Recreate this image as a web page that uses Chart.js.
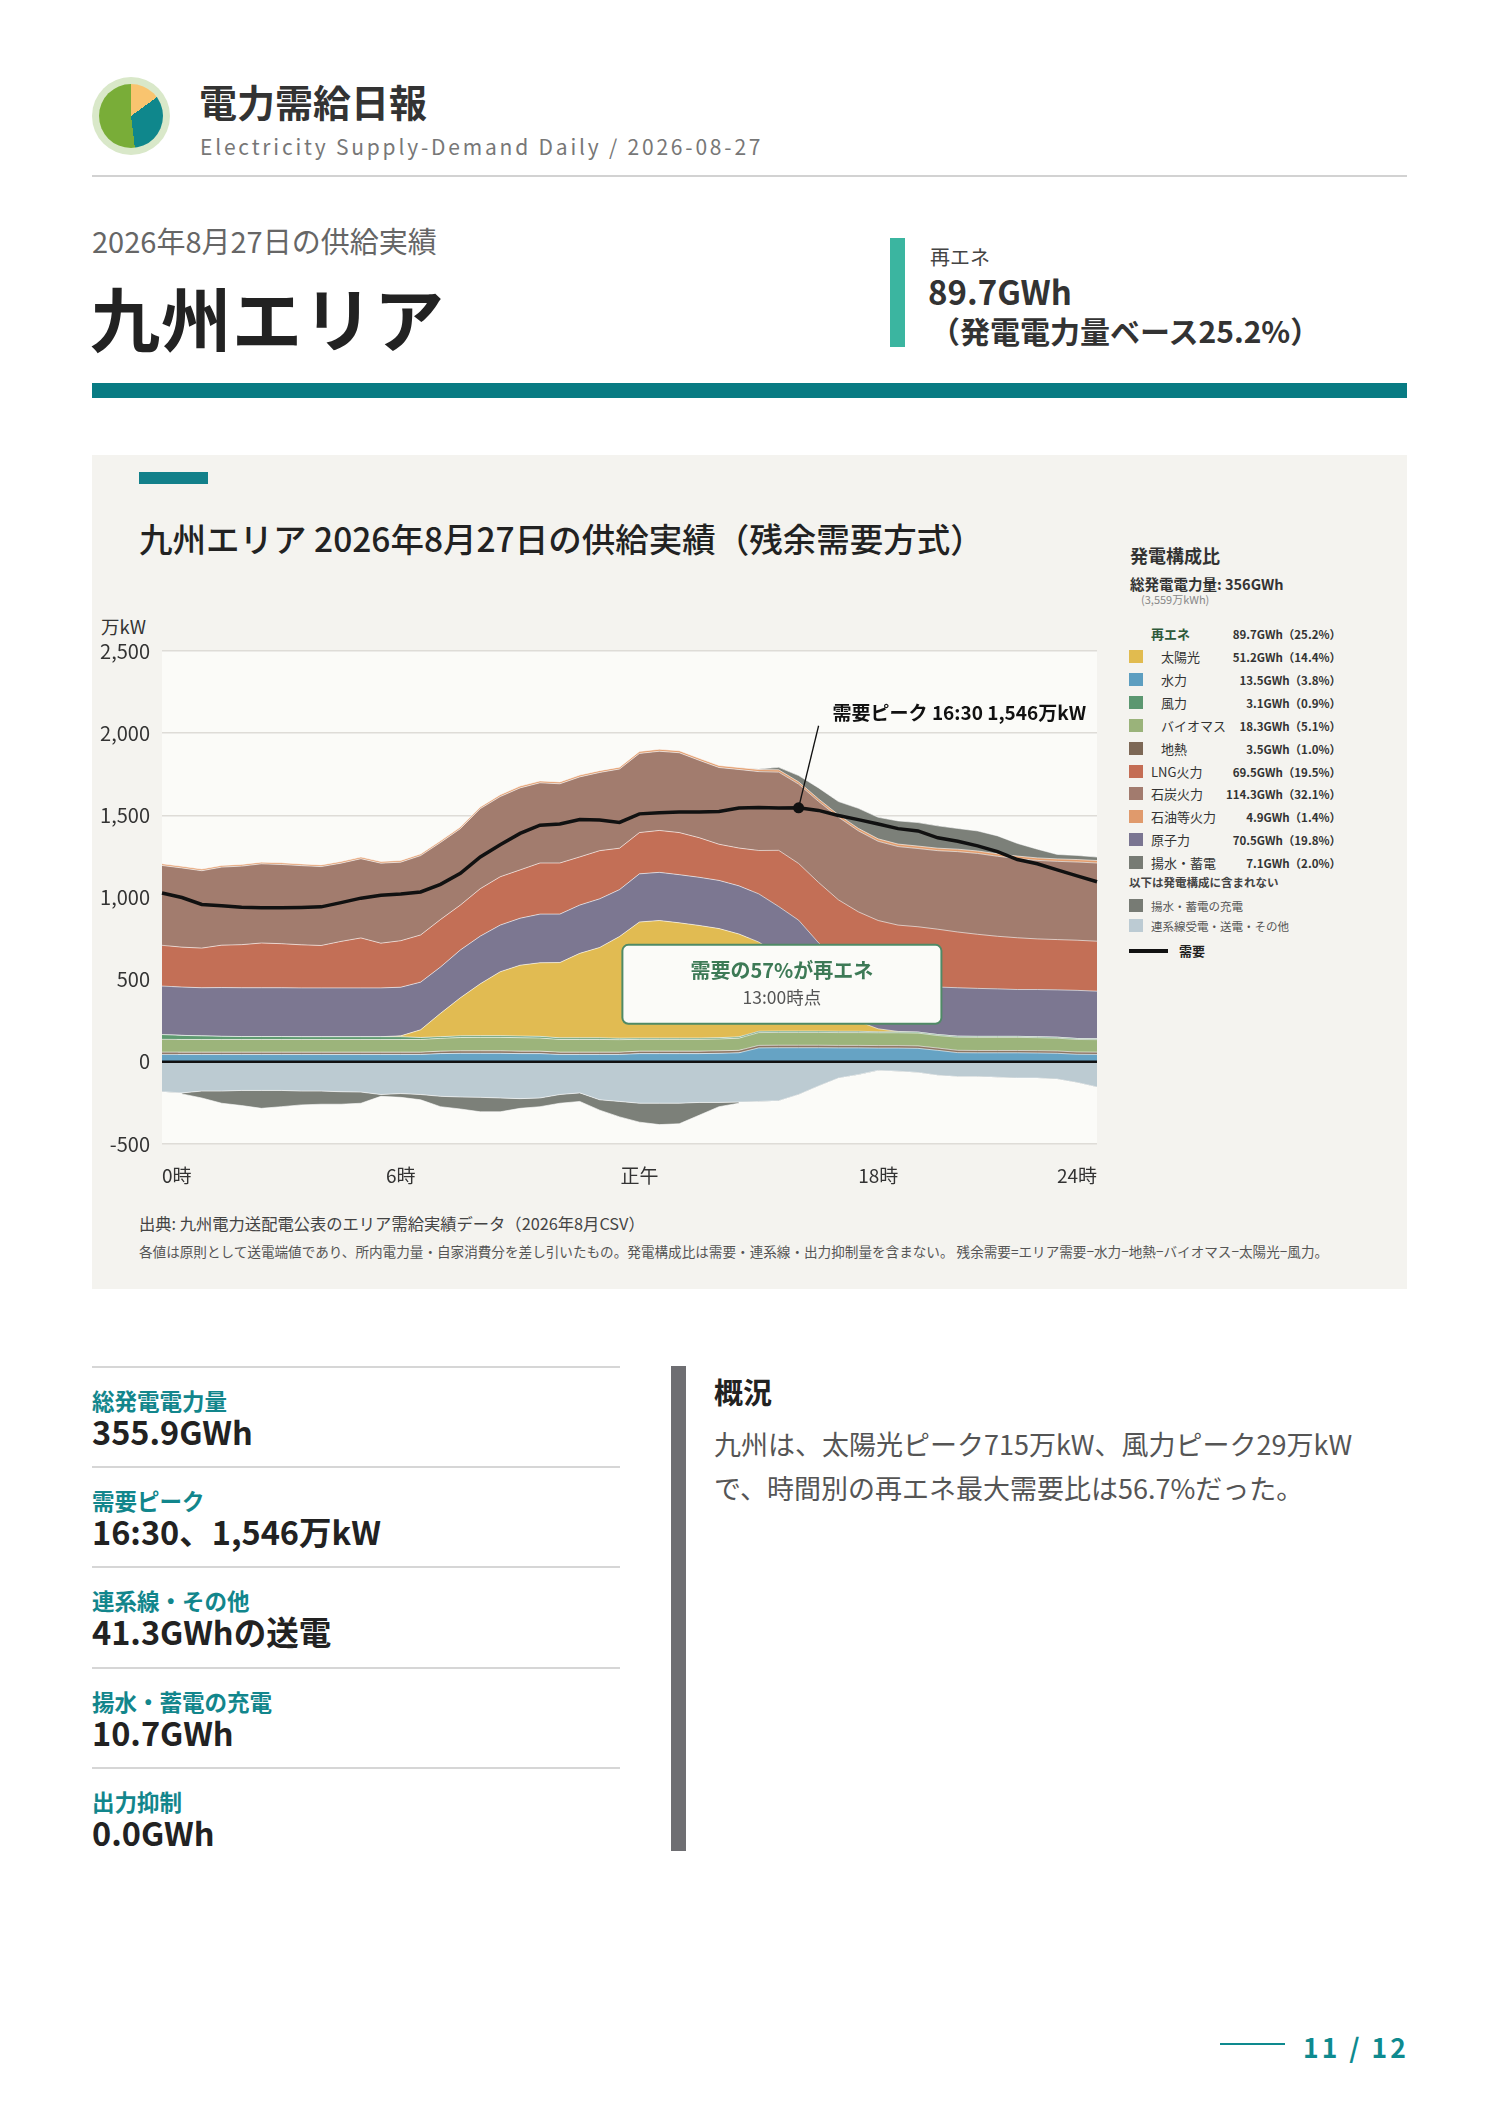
<!DOCTYPE html>
<html lang="ja">
<head>
<meta charset="utf-8">
<title>電力需給日報 九州エリア 2026-08-27</title>
<script src="https://cdn.jsdelivr.net/npm/chart.js@4.4.1/dist/chart.umd.min.js"></script>
<style>
  body { margin:0; width:1488px; height:2105px; background:#fff; position:relative; overflow:hidden;
         font-family:"Noto Sans CJK JP","Noto Sans",sans-serif; color:#222; }
  .abs { position:absolute; white-space:nowrap; }
  .logo { left:92px; top:77px; width:78px; height:78px; border-radius:50%; background:#d9e8c9; }
  .logo .pie { position:absolute; left:7px; top:7px; width:64px; height:64px; border-radius:50%;
               background:conic-gradient(#f9c46f 0deg 54deg, #0f878c 54deg 173deg, #79ad38 173deg 360deg); }
  .panel { left:92px; top:455px; width:1315px; height:834px; background:#f4f3ef; }
  .legend-row { position:absolute; left:1129px; width:212px; height:20px; line-height:20px; font-size:13px; color:#333; }
  .legend-row .sw { position:absolute; left:0; top:3px; width:14px; height:13px; }
  .legend-row .nm { position:absolute; left:22px; }
  .legend-row .nm.sub { left:32px; }
  .legend-row .val { position:absolute; right:0; font-size:11.5px; font-weight:700; color:#333; }
  .stat-line { left:92px; width:528px; height:2px; background:#d6d6d6; }
  .stat-label { left:92px; font-size:22.5px; font-weight:700; color:#12868c; }
  .stat-value { left:92px; font-size:32.5px; font-weight:700; color:#222; }
</style>
</head>
<body>

<!-- header -->
<div class="abs logo"><div class="pie"></div></div>
<div class="abs" style="left:199px;top:73px;font-size:38px;font-weight:700;color:#333;">電力需給日報</div>
<div class="abs" style="left:200px;top:131px;font-size:21px;letter-spacing:2.8px;color:#777;">Electricity Supply-Demand Daily / 2026-08-27</div>
<div class="abs" style="left:92px;top:175px;width:1315px;height:2px;background:#d2d2d2;"></div>

<div class="abs" style="left:92px;top:219px;font-size:29px;color:#666;">2026年8月27日の供給実績</div>
<div class="abs" style="left:90px;top:266px;font-size:70px;font-weight:700;color:#222;letter-spacing:1px;">九州エリア</div>

<div class="abs" style="left:890px;top:238px;width:15px;height:109px;background:#3bb5a0;"></div>
<div class="abs" style="left:930px;top:242px;font-size:20px;color:#444;">再エネ</div>
<div class="abs" style="left:928px;top:267px;font-size:33px;font-weight:700;color:#333;">89.7GWh</div>
<div class="abs" style="left:930px;top:308px;font-size:30px;font-weight:700;color:#333;">（発電電力量ベース25.2%）</div>

<div class="abs" style="left:92px;top:383px;width:1315px;height:15px;background:#087b83;"></div>

<!-- chart panel -->
<div class="abs panel"></div>
<div class="abs" style="left:139px;top:513px;font-size:33.5px;font-weight:500;color:#222;">九州エリア 2026年8月27日の供給実績（残余需要方式）</div>
<div class="abs" style="left:139px;top:472px;width:69px;height:12px;background:#12808a;"></div>
<div class="abs" style="left:101px;top:613px;font-size:18.5px;color:#333;">万kW</div>

<canvas id="supplyChart" class="abs" style="left:92px;top:600px;" width="1030" height="610"></canvas>

<div class="abs" style="left:139px;top:1211px;font-size:16.3px;color:#444;">出典: 九州電力送配電公表のエリア需給実績データ（2026年8月CSV）</div>
<div class="abs" style="left:139px;top:1241px;font-size:13.6px;color:#555;">各値は原則として送電端値であり、所内電力量・自家消費分を差し引いたもの。発電構成比は需要・連系線・出力抑制量を含まない。 残余需要=エリア需要−水力−地熱−バイオマス−太陽光−風力。</div>

<!-- legend -->
<div class="abs" style="left:1130px;top:542px;font-size:18px;font-weight:700;color:#333;">発電構成比</div>
<div class="abs" style="left:1130px;top:573px;font-size:14.5px;font-weight:700;color:#333;">総発電電力量: 356GWh</div>
<div class="abs" style="left:1141px;top:591px;font-size:11px;color:#888;">(3,559万kWh)</div>
<div id="legend"></div>

<!-- stats -->
<div id="stats"></div>
<div class="abs" style="left:671px;top:1366px;width:15px;height:485px;background:#6e6e72;"></div>
<div class="abs" style="left:714px;top:1370px;font-size:29px;font-weight:700;color:#222;">概況</div>
<div class="abs" style="left:714px;top:1422px;font-size:27px;color:#555;line-height:44px;">九州は、太陽光ピーク715万kW、風力ピーク29万kW<br>で、時間別の再エネ最大需要比は56.7%だった。</div>

<div class="abs" style="left:1220px;top:2043px;width:65px;height:2px;background:#0e8a8f;"></div>
<div class="abs" style="left:1303px;top:2027px;font-size:26.5px;font-weight:700;letter-spacing:3px;color:#0e8a8f;">11 / 12</div>

<script>
// 30分値（万kW）
const TIME_LABELS = ['0:00','0:30','1:00','1:30','2:00','2:30','3:00','3:30','4:00','4:30','5:00','5:30',
  '6:00','6:30','7:00','7:30','8:00','8:30','9:00','9:30','10:00','10:30','11:00','11:30',
  '12:00','12:30','13:00','13:30','14:00','14:30','15:00','15:30','16:00','16:30','17:00','17:30',
  '18:00','18:30','19:00','19:30','20:00','20:30','21:00','21:30','22:00','22:30','23:00','23:30'];
const X_TICK_TEXT = { 0: '0時', 12: '6時', 24: '正午', 36: '18時', 47: '24時' };
const Y_TICKS = [-500, 0, 500, 1000, 1500, 2000, 2500];

const HYDRO = [45,45,45,45,45,45,45,45,45,45,45,45,45,45,50,52,52,52,50,50,45,45,45,45,
  50,50,50,50,52,55,85,86,86,86,85,85,84,84,82,70,56,55,55,55,54,52,46,45];
const GEOTHERMAL = [14,14,14,14,14,14,14,14,14,14,14,14,14,14,15,15,15,15,15,15,14,14,14,14,
  15,15,15,15,15,15,15,15,15,15,15,15,15,15,15,14,14,14,14,14,14,14,14,14];
const BIOMASS = [78,77,77,77,77,77,77,77,77,77,77,77,77,77,78,81,82,82,82,80,77,77,77,76,
  72,72,72,72,72,74,78,78,78,78,78,78,78,78,78,76,80,80,80,80,79,78,76,76];
const WIND = [29,25,22,19,18,18,18,17,17,17,17,17,17,12,10,10,10,10,10,10,10,10,10,9,
  8,8,8,8,8,8,8,8,8,8,8,8,6,6,6,6,6,6,6,6,6,6,6,6];
const SOLAR = [0,0,0,0,0,0,0,0,0,0,0,0,5,47,142,232,316,389,431,448,458,514,550,619,
  706,715,701,685,664,626,543,465,382,245,130,60,18,2,0,0,0,0,0,0,0,0,0,0];
const NUCLEAR = [295,294,293,297,297,297,297,297,297,297,297,297,296,290,282,291,290,284,286,296,295,294,296,285,
  293,293,293,293,293,293,293,293,293,293,293,293,293,293,293,289,295,292,289,285,287,288,293,289];
const LNG = [248,243,241,258,262,272,268,262,258,283,304,272,283,287,289,273,289,294,294,311,311,293,293,252,
  251,255,256,241,220,230,264,342,345,367,377,374,366,354,348,352,339,329,320,315,308,306,305,304];
const COAL = [486,482,471,475,478,482,482,482,480,476,482,487,478,483,469,465,487,488,499,488,482,487,476,482,
  482,482,486,471,467,478,480,476,483,493,503,493,482,478,476,478,489,492,487,482,478,476,476,476];
const OIL = [10,10,10,10,10,10,10,10,10,10,10,10,10,10,10,10,10,11,11,11,11,11,11,11,
  12,12,12,12,12,12,13,14,14,15,15,15,15,15,15,15,15,15,15,15,15,15,15,15];
const PUMPED_GEN = [0,0,0,0,0,0,0,0,0,0,0,0,0,0,0,0,0,0,0,0,0,0,0,0,
  0,0,0,0,0,0,3,15,38,67,80,122,131,141,143,136,126,122,109,77,53,27,25,21];
const INTERCONNECT = [-182,-189,-178,-178,-174,-174,-174,-178,-178,-182,-184,-199,-193,-199,-210,-214,-216,-220,-224,-220,-199,-189,-231,-241,
  -252,-252,-252,-247,-247,-245,-241,-237,-199,-147,-99,-78,-52,-57,-65,-82,-90,-90,-94,-99,-99,-105,-126,-153];
const PUMPED_CHARGE = [0,-6,-42,-74,-92,-109,-99,-84,-80,-76,-68,-11,-23,-32,-63,-73,-88,-84,-59,-53,-53,-52,-63,-94,
  -115,-130,-125,-78,-26,-7,0,0,0,0,0,0,0,0,0,0,0,0,0,0,0,0,0,0];
const DEMAND = [1027,1000,958,950,940,937,937,939,943,969,996,1013,1021,1034,1080,1147,1247,1321,1390,1440,1447,1474,1472,1457,
  1509,1516,1520,1520,1524,1545,1547,1545,1546,1530,1499,1474,1447,1419,1405,1363,1342,1314,1279,1231,1205,1168,1132,1096];
const PEAK_INDEX = 32;
const PEAK_TEXT = '需要ピーク 16:30 1,546万kW';

// 凡例（発電構成比）
const LEGEND_NAMES = ['太陽光','水力','風力','バイオマス','地熱','LNG火力','石炭火力','石油等火力','原子力','揚水・蓄電'];
const LEGEND_SUB = [true,true,true,true,true,false,false,false,false,false];
const LEGEND_ENERGY = ['51.2GWh（14.4%）','13.5GWh（3.8%）','3.1GWh（0.9%）','18.3GWh（5.1%）','3.5GWh（1.0%）',
  '69.5GWh（19.5%）','114.3GWh（32.1%）','4.9GWh（1.4%）','70.5GWh（19.8%）','7.1GWh（2.0%）'];
const LEGEND_COLORS = ['#e1bb4f','#5d9ec0','#5b9770','#9ab37a','#7d6856','#c46d54','#a27b6e','#e09a6c','#7a7591','#777b74'];
const EXTRA_NAMES = ['揚水・蓄電の充電','連系線受電・送電・その他'];
const EXTRA_COLORS = ['#777b74','#bccbd3'];

const STAT_LABELS = ['総発電電力量','需要ピーク','連系線・その他','揚水・蓄電の充電','出力抑制'];
const STAT_VALUES = ['355.9GWh','16:30、1,546万kW','41.3GWhの送電','10.7GWh','0.0GWh'];

// legend html
const legend = document.getElementById('legend');
function addRow(y, html) {
  const row = document.createElement('div');
  row.className = 'legend-row';
  row.style.top = (y - 10) + 'px';
  row.innerHTML = html;
  legend.appendChild(row);
}
addRow(634, '<span class="nm" style="font-weight:700;color:#2e5a3a;">再エネ</span><span class="val">89.7GWh（25.2%）</span>');
LEGEND_NAMES.forEach((name, k) => {
  addRow(657 + k * 22.9,
    '<span class="sw" style="background:' + LEGEND_COLORS[k] + '"></span>' +
    '<span class="nm' + (LEGEND_SUB[k] ? ' sub' : '') + '">' + name + '</span>' +
    '<span class="val">' + LEGEND_ENERGY[k] + '</span>');
});
addRow(882, '<span style="position:absolute;left:0;font-size:11.5px;font-weight:700;color:#444;">以下は発電構成に含まれない</span>');
EXTRA_NAMES.forEach((name, k) => {
  addRow(906 + k * 20, '<span class="sw" style="background:' + EXTRA_COLORS[k] + '"></span>' +
    '<span class="nm" style="font-size:11.5px;color:#555;">' + name + '</span>');
});
addRow(951, '<span style="position:absolute;left:0;top:8px;width:39px;height:4px;background:#111;"></span>' +
  '<span class="nm" style="left:50px;font-weight:700;color:#222;">需要</span>');

// stats html
const stats = document.getElementById('stats');
STAT_LABELS.forEach((label, k) => {
  const top = 1366 + k * 100.2;
  stats.insertAdjacentHTML('beforeend',
    '<div class="abs stat-line" style="top:' + top + 'px"></div>' +
    '<div class="abs stat-label" style="top:' + (top + 18) + 'px">' + label + '</div>' +
    '<div class="abs stat-value" style="top:' + (top + 41) + 'px">' + STAT_VALUES[k] + '</div>');
});

// chart
const plotBackground = {
  id: 'plotBackground',
  beforeDraw(chart) {
    const { ctx, chartArea: a } = chart;
    ctx.save();
    ctx.fillStyle = '#fbfbf8';
    ctx.fillRect(a.left, a.top, a.right - a.left, a.bottom - a.top);
    ctx.restore();
  }
};

const annotations = {
  id: 'annotations',
  afterDatasetsDraw(chart) {
    const { ctx, chartArea: a, scales: { x, y } } = chart;
    ctx.save();
    // zero line
    const y0 = y.getPixelForValue(0);
    ctx.strokeStyle = '#111';
    ctx.lineWidth = 2.5;
    ctx.beginPath();
    ctx.moveTo(a.left, y0);
    ctx.lineTo(a.right, y0);
    ctx.stroke();

    // peak callout
    const px = x.getPixelForValue(PEAK_INDEX);
    const py = y.getPixelForValue(DEMAND[PEAK_INDEX]);
    ctx.lineWidth = 1.3;
    ctx.beginPath();
    ctx.moveTo(px, py);
    ctx.lineTo(px + 20, py - 82);
    ctx.stroke();
    ctx.fillStyle = '#111';
    ctx.font = '700 19px "Noto Sans CJK JP", sans-serif';
    ctx.textBaseline = 'middle';
    ctx.fillText(PEAK_TEXT, px + 34, py - 95);

    // renewable share box
    const bx = a.left + (a.right - a.left) * 0.4924;
    const bw = 319, bh = 79;
    const by = y.getPixelForValue(712);
    ctx.fillStyle = '#fbfbf8';
    ctx.strokeStyle = '#4f8a66';
    ctx.lineWidth = 2;
    ctx.beginPath();
    ctx.roundRect(bx, by, bw, bh, 6);
    ctx.fill();
    ctx.stroke();
    ctx.textAlign = 'center';
    ctx.fillStyle = '#3d7a56';
    ctx.font = '700 20px "Noto Sans CJK JP", sans-serif';
    ctx.fillText('需要の57%が再エネ', bx + bw / 2, by + 26);
    ctx.fillStyle = '#555';
    ctx.font = '400 17.5px "Noto Sans CJK JP", sans-serif';
    ctx.fillText('13:00時点', bx + bw / 2, by + 53);
    ctx.restore();
  }
};

function area(label, data, color, fill) {
  return {
    label, data, fill,
    backgroundColor: color,
    borderColor: 'rgba(255,255,255,0.6)',
    borderWidth: 1,
    pointRadius: 0,
    tension: 0,
    stack: 'supply'
  };
}

const datasets = [
  {
    label: '需要', data: DEMAND, stack: 'demand', fill: false, order: -1,
    borderColor: '#111', borderWidth: 3.5, tension: 0,
    pointRadius: c => c.dataIndex === PEAK_INDEX ? 5.5 : 0,
    pointBackgroundColor: '#111', pointBorderWidth: 0
  },
  area('水力', HYDRO, '#66a3c4', 'origin'),
  area('地熱', GEOTHERMAL, '#8d7563', '-1'),
  area('バイオマス', BIOMASS, '#9cb47b', '-1'),
  area('風力', WIND, '#5e9a70', '-1'),
  area('太陽光', SOLAR, '#e1bb52', '-1'),
  area('原子力', NUCLEAR, '#7c7791', '-1'),
  area('LNG火力', LNG, '#c36f56', '-1'),
  area('石炭火力', COAL, '#a27c6e', '-1'),
  area('石油等火力', OIL, '#e39d6d', '-1'),
  area('揚水・蓄電', PUMPED_GEN, '#7c8079', '-1'),
  area('連系線受電・送電・その他', INTERCONNECT, '#bccbd2', 'origin'),
  area('揚水・蓄電の充電', PUMPED_CHARGE, '#7c8079', '-1')
];

new Chart(document.getElementById('supplyChart'), {
  type: 'line',
  data: { labels: TIME_LABELS, datasets },
  options: {
    responsive: false,
    animation: false,
    layout: { padding: { left: 0, right: 25, top: 51, bottom: 16 } },
    plugins: { legend: { display: false }, tooltip: { enabled: false } },
    scales: {
      x: {
        grid: { display: false },
        border: { display: false },
        afterFit: s => { s.height = 50; },
        ticks: {
          autoSkip: false, maxRotation: 0, align: 'inner', padding: 12,
          color: '#333', font: { size: 19, family: '"Noto Sans CJK JP", sans-serif' },
          callback: (v, i) => X_TICK_TEXT[i] || ''
        }
      },
      y: {
        stacked: true,
        min: Y_TICKS[0], max: Y_TICKS[Y_TICKS.length - 1],
        afterFit: s => { s.width = 70; },
        afterBuildTicks: s => { s.ticks = Y_TICKS.map(v => ({ value: v })); },
        border: { display: false },
        grid: { color: '#dedcd7', lineWidth: 1.5, drawTicks: false },
        ticks: {
          padding: 12, color: '#333',
          font: { size: 20, family: '"Noto Sans CJK JP", sans-serif' },
          callback: v => v.toLocaleString('en-US')
        }
      }
    }
  },
  plugins: [plotBackground, annotations]
});
</script>
</body>
</html>
